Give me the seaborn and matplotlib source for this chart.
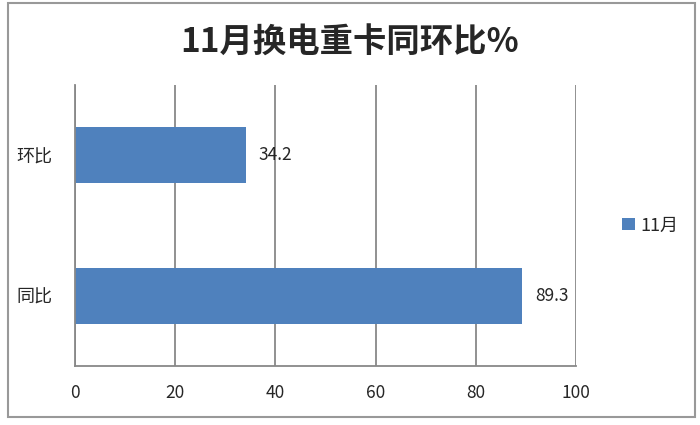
import matplotlib
matplotlib.use('Agg')
import matplotlib.pyplot as plt
from matplotlib.patches import Rectangle
import seaborn as sns
import pandas as pd

# 数据
categories = ['环比', '同比']
values = [34.2, 89.3]
series_name = '11月'
x_ticks = [0, 20, 40, 60, 80, 100]

sns.set_style('white')
plt.rcParams['font.family'] = ['Noto Sans CJK SC', 'DejaVu Sans']

df = pd.DataFrame({'类别': categories, '值': values, '系列': series_name})

fig = plt.figure(figsize=(7, 4.25), dpi=100)
ax = fig.add_axes([0.107, 0.139, 0.716, 0.661])

sns.barplot(data=df, y='类别', x='值', hue='系列', orient='h',
            palette=['#4F81BD'], width=0.4, ax=ax, saturation=1, linewidth=0)

ax.set_xlim(0, 100)
ax.set_ylim(1.5, -0.5)
ax.set_xticks(x_ticks)
ax.set_xticklabels([str(t) for t in x_ticks], fontsize=12.5)
ax.set_xlabel('')
ax.set_ylabel('')
ax.set_yticks(range(len(categories)))
ax.set_yticklabels(categories, fontsize=13)
ax.tick_params(axis='y', length=0, pad=16)
ax.tick_params(axis='x', length=7, color='#888888', width=1.2, pad=6, direction='out')

# 类别分隔刻度
ax.set_yticks([-0.5, 0.5, 1.5], minor=True)
ax.tick_params(axis='y', which='minor', length=5, color='#888888', width=1.2, direction='out')

# 网格线
ax.grid(axis='x', color='#888888', linewidth=1.3)
ax.set_axisbelow(True)
for s in ['top', 'right']:
    ax.spines[s].set_visible(False)
for s in ['left', 'bottom']:
    ax.spines[s].set_color('#888888')
    ax.spines[s].set_linewidth(1.3)

# 数据标签
for cont in ax.containers:
    ax.bar_label(cont, labels=[f'{v:.1f}' for v in values], padding=9, fontsize=12.5)

ax.legend(loc='center left', bbox_to_anchor=(1.06, 0.5), frameon=False,
          fontsize=13, handlelength=0.7, handleheight=0.7, handletextpad=0.3)

fig.text(0.5, 0.899, '11月换电重卡同环比%', fontsize=24, fontweight='bold',
         ha='center', va='center')

fig.patches.append(Rectangle((0.011, 0.019), 0.982, 0.974, transform=fig.transFigure,
                             fill=False, edgecolor='#999999', linewidth=1.5))

fig.savefig('out.png', dpi=100)
